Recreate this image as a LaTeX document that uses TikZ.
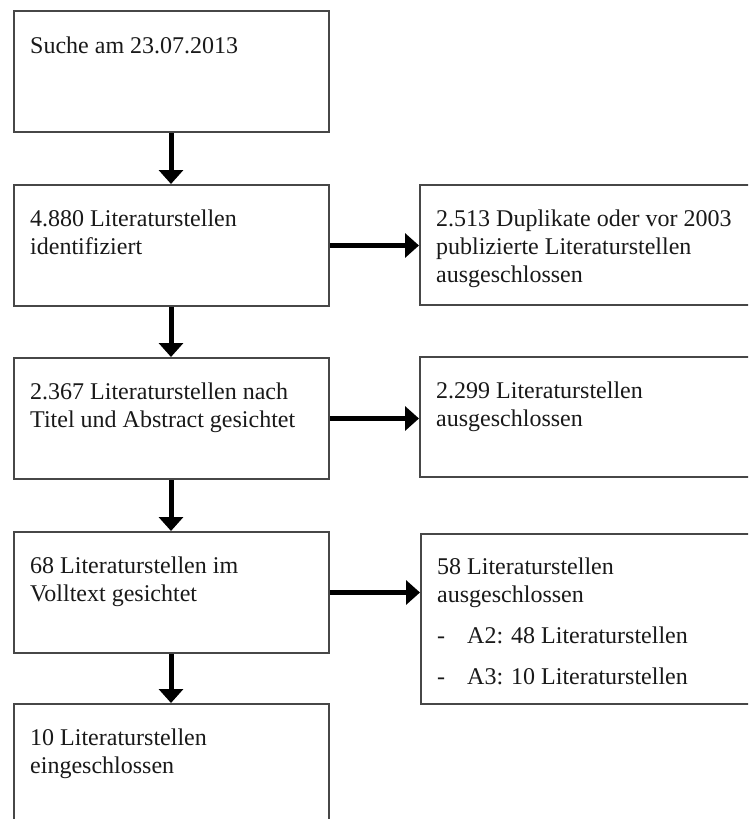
\documentclass[tikz,border=0pt]{standalone}
\usepackage{fontspec}
\setmainfont{Liberation Serif}
\usetikzlibrary{arrows.meta}
\tikzset{
  box/.style={draw=black!72, line width=2pt, rectangle, inner sep=0pt, anchor=north west},
  txt/.style={anchor=north west, inner sep=0pt, align=left, font=\fontsize{24}{28}\selectfont, text=black!90},
  arr/.style={line width=5pt, -{Triangle[width=24pt,length=14pt]}, black}
}
\begin{document}
\begin{tikzpicture}[x=1pt,y=-1pt]
\useasboundingbox (0,0) rectangle (748,819);
\fill[white] (0,0) rectangle (748,819);
\clip (0,0) rectangle (748,819);
% left column boxes
\node[box, minimum width=315pt, minimum height=121pt] (b1) at (13,10) {};
\node[box, minimum width=315pt, minimum height=121pt] (b2) at (13,184) {};
\node[box, minimum width=315pt, minimum height=121pt] (b3) at (13,357) {};
\node[box, minimum width=315pt, minimum height=121pt] (b4) at (13,531) {};
\node[box, minimum width=315pt, minimum height=160pt] (b5) at (13,703) {};
% right column boxes
\node[box, minimum width=345pt, minimum height=120pt] (r2) at (419,184) {};
\node[box, minimum width=345pt, minimum height=120pt] (r3) at (419,356) {};
\node[box, minimum width=345pt, minimum height=170pt] (r4) at (420,533) {};
% texts
\node[txt] (t1) at (30,33.4) {\strut Suche am 23.07.2013};
\node[txt] (t2) at (30,206.4) {\strut 4.880 Literaturstellen\\identifiziert};
\node[txt] (t3) at (30,379.4) {\strut 2.367 Literaturstellen nach\\Titel und Abstract gesichtet};
\node[txt] (t4) at (30,553.4) {\strut 68 Literaturstellen im\\Volltext gesichtet};
\node[txt] (t5) at (30,725.4) {\strut 10 Literaturstellen\\eingeschlossen};
\node[txt] (u2) at (436,206.4) {\strut 2.513 Duplikate oder vor 2003\\publizierte Literaturstellen\\ausgeschlossen};
\node[txt] (u3) at (436,378.4) {\strut 2.299 Literaturstellen\\ausgeschlossen};
\node[txt] (u4) at (437,554.4) {\strut 58 Literaturstellen\\ausgeschlossen\\[13pt]\makebox[30pt][l]{-}A2: 48 Literaturstellen\\[13pt]\makebox[30pt][l]{-}A3: 10 Literaturstellen};
% arrows
\draw[arr] (b1.south -| 171,0) -- (b2.north -| 171,0);
\draw[arr] (b2.south -| 171,0) -- (b3.north -| 171,0);
\draw[arr] (b3.south -| 171,0) -- (b4.north -| 171,0);
\draw[arr] (b4.south -| 171,0) -- (b5.north -| 171,0);
\draw[arr] (b2.east) -- (b2.east -| r2.west);
\draw[arr] (b3.east) -- (b3.east -| r3.west);
\draw[arr] (b4.east) -- (b4.east -| r4.west);
\end{tikzpicture}
\end{document}
